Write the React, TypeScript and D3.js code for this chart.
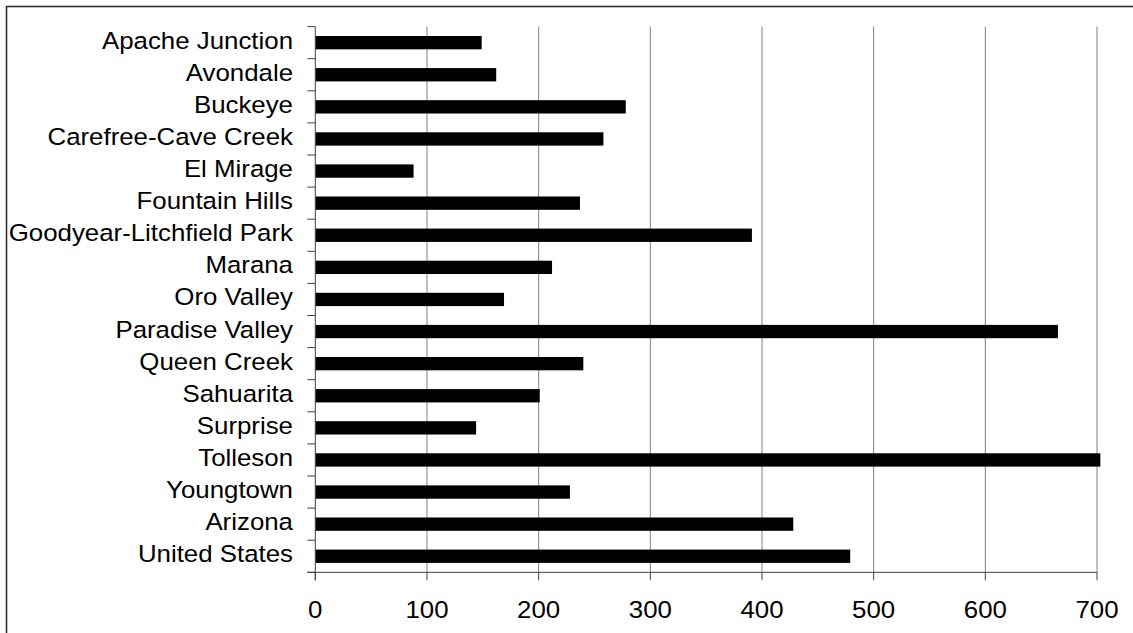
import React from "react";
import * as d3 from "d3";

const categories = [
  "Apache Junction",
  "Avondale",
  "Buckeye",
  "Carefree-Cave Creek",
  "El Mirage",
  "Fountain Hills",
  "Goodyear-Litchfield Park",
  "Marana",
  "Oro Valley",
  "Paradise Valley",
  "Queen Creek",
  "Sahuarita",
  "Surprise",
  "Tolleson",
  "Youngtown",
  "Arizona",
  "United States",
];
const values = [149, 162, 278, 258, 88, 237, 391, 212, 169, 665, 240, 201, 144, 703, 228, 428, 479];
const xTicks = [0, 100, 200, 300, 400, 500, 600, 700];

const W = 1133;
const H = 633;
const left = 315.3;
const right = 1097;
const top = 26.6;
const bottom = 572.3;
const FONT = "'Liberation Sans', Arial, sans-serif";
const FS = 23.5;
const SX = 1.1;

export default function App() {
  const x = d3.scaleLinear().domain([0, 700]).range([left, right]);
  const yOuter = d3.scaleBand<string>().domain(categories).range([top, bottom]).padding(0);
  const y = d3
    .scaleBand<string>()
    .domain(categories)
    .range([top, bottom])
    .paddingInner(0.585)
    .paddingOuter(0.2925);
  const step = yOuter.step();
  const boundaries = d3.range(categories.length + 1).map((i) => top + i * step);

  return (
    <svg
      width={W}
      height={H}
      style={{ position: "absolute", left: 0, top: 0, background: "#fff" }}
    >
      <rect x={0} y={0} width={W} height={H} fill="#fff" />
      <rect x={6.5} y={6.5} width={W + 20} height={H + 20} fill="none" stroke="#333" strokeWidth={1.6} />
      {xTicks.slice(1).map((t) => (
        <line key={"g" + t} x1={x(t)} x2={x(t)} y1={top} y2={bottom} stroke="#808080" strokeWidth={1} />
      ))}
      {categories.map((c, i) => (
        <rect key={c} x={x(0)} y={y(c)} width={x(values[i]) - x(0)} height={y.bandwidth()} fill="#000" />
      ))}
      <line x1={x(0)} x2={x(0)} y1={top} y2={bottom + 8} stroke="#404040" strokeWidth={1} />
      {boundaries.map((b, i) => (
        <line key={"yt" + i} x1={x(0) - 8} x2={x(0)} y1={b} y2={b} stroke="#404040" strokeWidth={1} />
      ))}
      <line x1={x(0) - 8} x2={x(700)} y1={bottom} y2={bottom} stroke="#404040" strokeWidth={1} />
      {xTicks.map((t) => (
        <line key={"xt" + t} x1={x(t)} x2={x(t)} y1={bottom} y2={bottom + 8} stroke="#404040" strokeWidth={1} />
      ))}
      {categories.map((c) => (
        <g key={"l" + c} transform={`translate(293,${(yOuter(c) as number) + step / 2 + 6}) scale(${SX},1)`}>
          <text x={0} y={0} textAnchor="end" fontFamily={FONT} fontSize={FS} fill="#000">
            {c}
          </text>
        </g>
      ))}
      {xTicks.map((t) => (
        <g key={"xl" + t} transform={`translate(${x(t)},${618}) scale(${SX},1)`}>
          <text x={0} y={0} textAnchor="middle" fontFamily={FONT} fontSize={FS} fill="#000">
            {t}
          </text>
        </g>
      ))}
    </svg>
  );
}
